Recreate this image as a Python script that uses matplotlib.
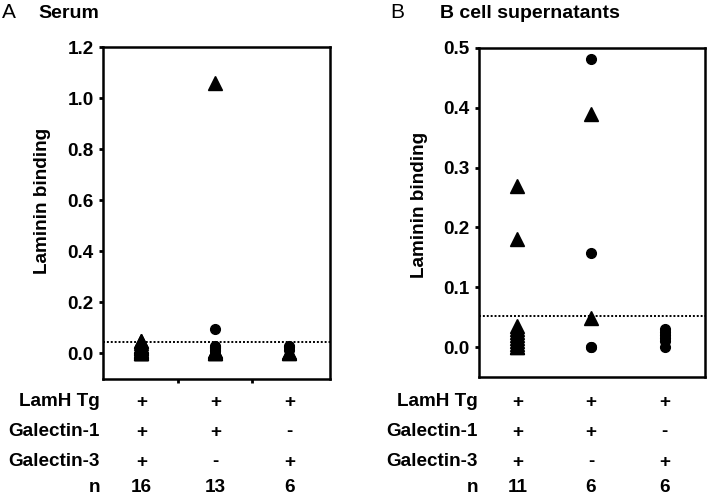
import numpy as np
import matplotlib.pyplot as plt

plt.rcParams['font.family'] = ['Liberation Sans', 'DejaVu Sans']
plt.rcParams['font.weight'] = 'bold'

# Data
groups = [1, 2, 3]
row_labels = ["LamH Tg", "Galectin-1", "Galectin-3", "n"]
lamh = ["+", "+", "+"]
gal1 = ["+", "+", "-"]
gal3 = ["+", "-", "+"]

# Panel A: serum
serum_tri = [
    [0.0, 0.0, 0.0, 0.0, 0.005, 0.01, 0.01, 0.015, 0.02, 0.02, 0.025, 0.03, 0.03, 0.04, 0.05, 0.05],
    [1.06, 0.0, 0.0, 0.0, 0.005, 0.01, 0.01],
    [0.0, 0.0, 0.005],
]
serum_circ = [
    [],
    [0.095, 0.03, 0.025, 0.02, 0.015, 0.01],
    [0.03, 0.025, 0.015],
]
serum_n = ["16", "13", "6"]
serum_cutoff = 0.043

# Panel B: B cell supernatants
sup_tri = [
    [0.27, 0.18, 0.035, 0.03, 0.025, 0.02, 0.015, 0.01, 0.005, 0.0, 0.0],
    [0.39, 0.048],
    [],
]
sup_circ = [
    [],
    [0.482, 0.158, 0.0, 0.0],
    [0.0, 0.01, 0.015, 0.02, 0.025, 0.03],
]
sup_n = ["11", "6", "6"]
sup_cutoff = 0.052

FS = 13.6

fig = plt.figure(figsize=(7.07, 4.97), dpi=100)
axA = fig.add_axes([103 / 707, 118 / 497, 227 / 707, 332 / 497])
axB = fig.add_axes([479 / 707, 120 / 497, 226 / 707, 329 / 497])


def draw_panel(ax, tri, circ, cutoff, ylim, yticks, xticks):
    for g, vals in zip(groups, tri):
        ax.plot([g] * len(vals), vals, linestyle="none", marker="^",
                markersize=10, color="black")
    for g, vals in zip(groups, circ):
        ax.plot([g] * len(vals), vals, linestyle="none", marker="o",
                markersize=7, color="black")
    ax.axhline(cutoff, color="black", linestyle=(0, (1, 1)), linewidth=1.4)
    ax.set_xlim(0.48, 3.55)
    ax.set_ylim(*ylim)
    ax.set_yticks(yticks)
    ax.set_yticklabels([f"{t:.1f}" for t in yticks], fontsize=FS, fontweight="bold")
    ax.set_xticks(xticks)
    ax.set_xticklabels([])
    ax.tick_params(direction="out", length=3, width=2)
    for s in ax.spines.values():
        s.set_linewidth(1.8)


draw_panel(axA, serum_tri, serum_circ, serum_cutoff, (-0.1, 1.2),
           np.arange(0, 1.21, 0.2), [1.5, 2.5])
draw_panel(axB, sup_tri, sup_circ, sup_cutoff, (-0.05, 0.5),
           np.arange(0, 0.51, 0.1), [])


def draw_table(ax, label_x, n_vals):
    rows = [lamh, gal1, gal3, n_vals]
    row_y = [402, 432, 462, 488]
    for label, vals, y in zip(row_labels, rows, row_y):
        yf = 1 - y / 497
        fig.text(label_x / 707, yf, label, ha="right", va="center",
                 fontsize=FS, fontweight="bold")
        for g, v in zip(groups, vals):
            xd = ax.transData.transform((g, 0))[0]
            xf = fig.transFigure.inverted().transform((xd, 0))[0]
            fig.text(xf, yf, v, ha="center", va="center",
                     fontsize=FS, fontweight="bold")


draw_table(axA, 100, serum_n)
draw_table(axB, 478, sup_n)

# Y labels
fig.text(43 / 707, 1 - 201 / 497, "Laminin binding", rotation=90,
         ha="center", va="center", fontsize=FS, fontweight="bold")
fig.text(420 / 707, 1 - 205 / 497, "Laminin binding", rotation=90,
         ha="center", va="center", fontsize=FS, fontweight="bold")

# Panel titles
fig.text(2 / 707, 1 - 13 / 497, "A", ha="left", va="center",
         fontsize=15, fontweight="normal")
fig.text(38 / 707, 1 - 13 / 497, "Serum", ha="left", va="center",
         fontsize=14, fontweight="bold")
fig.text(390 / 707, 1 - 13 / 497, "B", ha="left", va="center",
         fontsize=15, fontweight="normal")
fig.text(440 / 707, 1 - 13 / 497, "B cell supernatants", ha="left", va="center",
         fontsize=14, fontweight="bold")

fig.savefig("out.png", dpi=100)
